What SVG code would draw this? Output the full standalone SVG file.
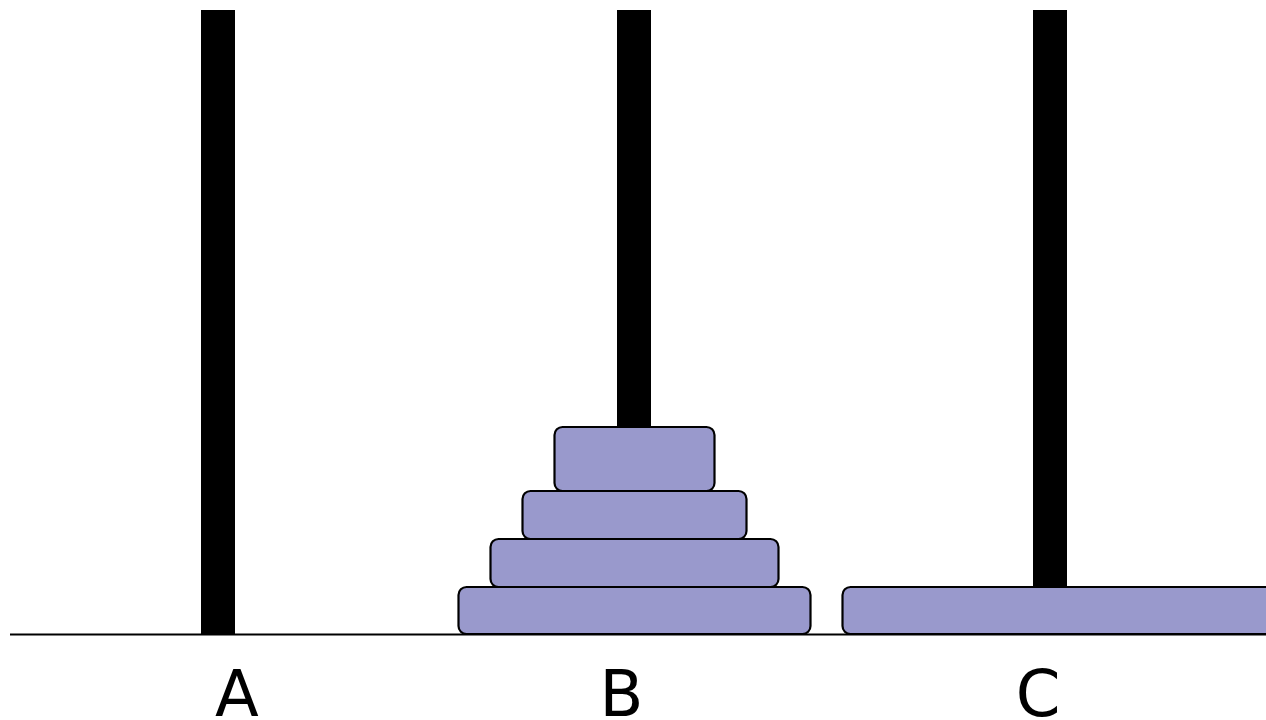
<svg xmlns="http://www.w3.org/2000/svg" width="1266" height="720" viewBox="0 0 1266 720">
<style>
.pole{fill:#000}
.disk{fill:#9999cc;stroke:#000;stroke-width:2.2}
.lbl{font-family:"DejaVu Sans",sans-serif;font-size:64px;fill:#000;text-anchor:middle}
</style>
<rect width="1266" height="720" fill="#fff"/>
<g id="base">
<line x1="10" y1="634.5" x2="1266" y2="634.5" stroke="#000" stroke-width="2.2"/>
</g>
<g id="poles">
<rect id="pole-A" class="pole" x="201" y="10" width="34" height="625"/>
<rect id="pole-B" class="pole" x="617" y="10" width="34" height="625"/>
<rect id="pole-C" class="pole" x="1033" y="10" width="34" height="625"/>
</g>
<g id="disks-B">
<rect id="disk-B4" class="disk" x="458.5" y="587" width="352" height="47" rx="8"/>
<rect id="disk-B3" class="disk" x="490.5" y="539" width="288" height="48" rx="8"/>
<rect id="disk-B2" class="disk" x="522.5" y="491" width="224" height="48" rx="8"/>
<rect id="disk-B1" class="disk" x="554.5" y="427" width="160" height="64" rx="8"/>
</g>
<g id="disks-C">
<rect id="disk-C1" class="disk" x="842.5" y="587" width="480" height="47" rx="8"/>
</g>
<g id="labels">
<text class="lbl" x="237" y="716">A</text>
<text class="lbl" x="621.5" y="716">B</text>
<text class="lbl" x="1038" y="716">C</text>
</g>
</svg>
